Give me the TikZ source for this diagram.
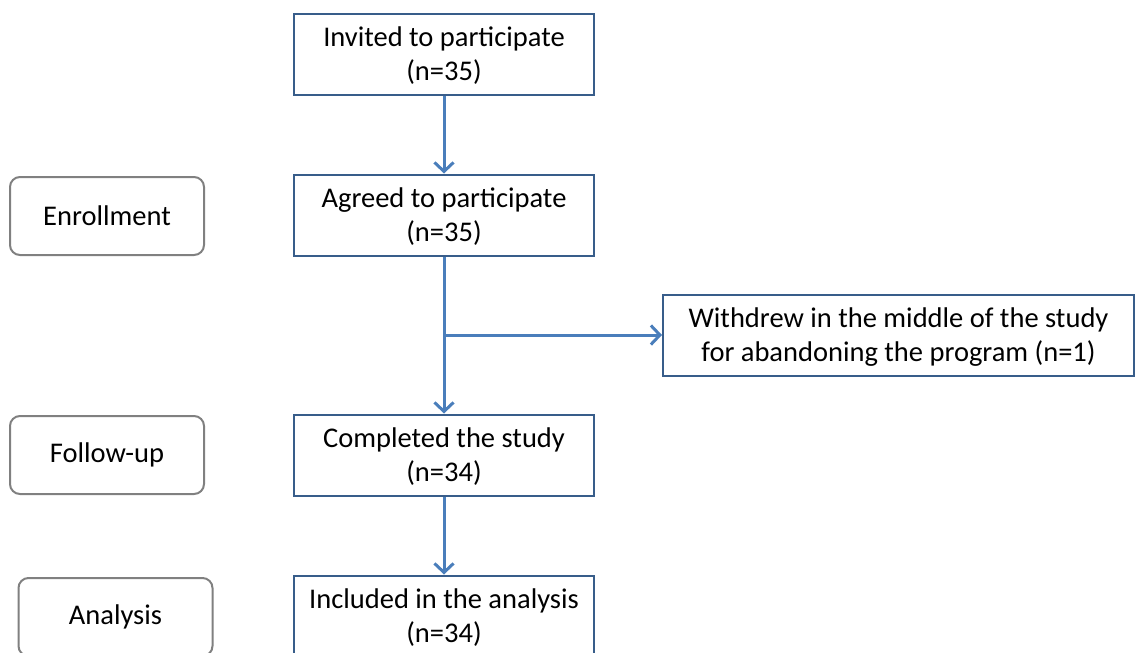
\documentclass[tikz,border=0pt]{standalone}
\usepackage{fontspec}
\setmainfont{Carlito}
\usetikzlibrary{arrows.meta}
\definecolor{boxline}{RGB}{56,93,138}
\definecolor{arrowline}{RGB}{74,126,187}
\definecolor{stageline}{RGB}{128,128,128}
\begin{document}
\begin{tikzpicture}[x=1pt, y=-1pt, font=\fontsize{28.5}{34}\selectfont,
  box/.style={draw=boxline, line width=2pt, minimum width=300pt, minimum height=81pt, align=center, inner sep=0pt, text depth=0pt},
  stage/.style={draw=stageline, line width=2pt, rounded corners=10pt, minimum width=194pt, minimum height=78pt},
  flow/.style={draw=arrowline, line width=3pt, -{Straight Barb[length=9pt,width=19pt]}}]
\useasboundingbox (0,0) rectangle (1135,653);

\node[box] (b0) at (444,54) {Invited to participate\\(n=35)};
\node[box] (b1) at (444,215) {Agreed to participate\\(n=35)};
\node[box, minimum width=471pt] (b2) at (898.5,335) {Withdrew in the middle of the study\\for abandoning the program (n=1)};
\node[box] (b3) at (444,455) {Completed the study\\(n=34)};
\node[box] (b4) at (444,616) {Included in the analysis\\(n=34)};

\node[stage] (s0) at (107,216) {Enrollment};
\node[stage] (s1) at (107,455) {Follow-up};
\node[stage] (s2) at (115.5,617) {Analysis};

\coordinate (j0) at (444,335);

\draw[flow] (b0) -- (b1);
\draw[flow] (b1) -- (b3);
\draw[flow] (j0) -- (b2);
\draw[flow] (b3) -- (b4);
\end{tikzpicture}
\end{document}
